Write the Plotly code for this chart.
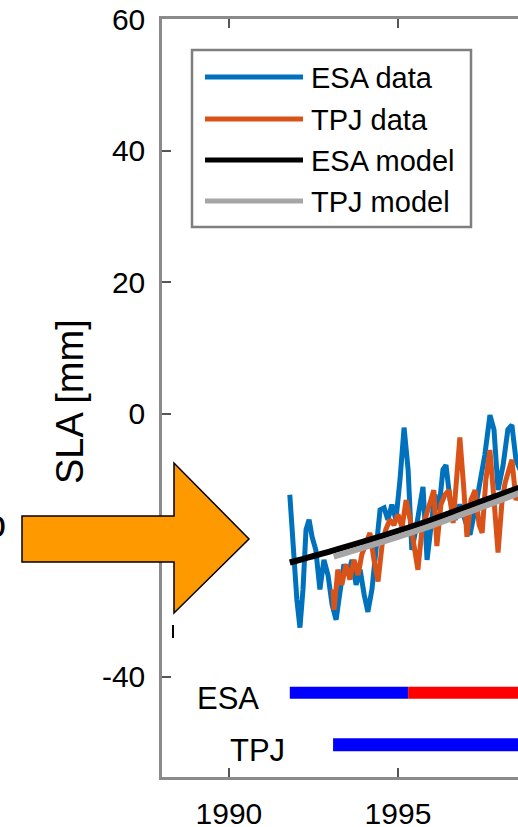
import plotly.graph_objects as go

# ---------------- data ----------------
esa_year = [1991.80, 1991.89, 1992.01, 1992.10, 1992.19, 1992.28, 1992.37, 1992.46, 1992.57,
            1992.69, 1992.81, 1992.93, 1993.05, 1993.17, 1993.28, 1993.40, 1993.52, 1993.64,
            1993.76, 1993.88, 1994.00, 1994.11, 1994.23, 1994.35, 1994.47, 1994.59, 1994.70,
            1994.82, 1994.94, 1995.06, 1995.18, 1995.30, 1995.41, 1995.53, 1995.65, 1995.74,
            1995.86, 1995.98, 1996.09, 1996.21, 1996.33, 1996.42, 1996.54, 1996.69, 1996.83,
            1996.98, 1997.13, 1997.28, 1997.43, 1997.57, 1997.72, 1997.84, 1997.96, 1998.11,
            1998.25, 1998.37, 1998.49, 1998.61]
esa_sla = [-12.3, -19.9, -28.3, -32.5, -26.7, -17.6, -16.1, -18.7, -20.7,
           -26.7, -22.2, -24.5, -29.0, -31.3, -26.7, -22.9, -24.5, -22.2,
           -26.0, -23.7, -27.5, -30.1, -26.7, -19.9, -14.6, -14.3, -16.1,
           -13.8, -16.1, -10.0, -2.1, -8.5, -20.7, -17.6, -13.1, -11.1,
           -22.2, -16.1, -12.3, -14.6, -8.5, -7.8, -13.1, -16.1, -13.8,
           -16.1, -18.4, -14.6, -10.0, -6.2, -0.2, -2.4, -11.6, -7.8,
           -2.4, -1.7, -7.0, -8.5]

tpj_year = [1993.08, 1993.11, 1993.22, 1993.34, 1993.46, 1993.58, 1993.70, 1993.82, 1993.93,
            1994.05, 1994.17, 1994.29, 1994.41, 1994.53, 1994.64, 1994.76, 1994.88, 1995.00,
            1995.12, 1995.24, 1995.36, 1995.47, 1995.59, 1995.71, 1995.83, 1995.95, 1996.06,
            1996.15, 1996.27, 1996.39, 1996.51, 1996.63, 1996.75, 1996.83, 1996.95, 1997.04,
            1997.16, 1997.28, 1997.40, 1997.49, 1997.60, 1997.72, 1997.84, 1997.96, 1998.08,
            1998.17, 1998.28, 1998.37, 1998.49, 1998.61]
tpj_sla = [-26.7, -29.8, -23.7, -26.0, -22.9, -25.2, -22.2, -24.5, -21.4,
           -19.9, -18.1, -22.2, -25.5, -19.9, -17.6, -16.1, -16.9, -15.3,
           -17.3, -13.1, -16.1, -19.9, -23.7, -17.6, -15.3, -13.1, -11.6,
           -20.1, -13.8, -12.3, -11.6, -16.6, -8.5, -3.6, -11.6, -18.7,
           -13.1, -11.6, -16.9, -18.1, -10.0, -5.5, -13.1, -21.1, -13.1,
           -10.5, -8.5, -7.0, -13.1, -11.6]

esa_model_year = [1991.80, 1993.0, 1994.0, 1995.0, 1996.0, 1997.0, 1998.0, 1998.6]
esa_model_sla = [-22.6, -20.9, -19.4, -17.8, -16.1, -14.2, -12.3, -11.2]
tpj_model_year = [1993.10, 1994.0, 1995.0, 1996.0, 1997.0, 1998.0, 1998.6]
tpj_model_sla = [-21.7, -20.3, -18.7, -17.0, -15.1, -13.2, -12.0]

# mission coverage bars
esa_phase1_years = [1991.80, 1995.30]
esa_phase2_years = [1995.30, 1998.70]
esa_bar_level = -42.4
tpj_years = [1993.08, 1998.70]
tpj_bar_level = -50.3

legend_names = ["ESA data", "TPJ data", "ESA model", "TPJ model"]
legend_colors = ["#0072BD", "#D95319", "#000000", "#A6A6A6"]

y_tickvals = [60, 40, 20, 0, -20, -40]
y_ticktext = ["60", "40", "20", "0", "-20", "-40"]
x_tickvals = [1990, 1995, 2000]
x_ticktext = ["1990", "1995", "2000"]

# ---------------- figure ----------------
W, H = 518, 827
L, R, T, B = 162, 0, 19, 50
PW, PH = W - L - R, H - T - B


def px(xp):
    return (xp - L) / PW


def py(yp):
    return (H - B - yp) / PH


FONT = "Liberation Sans, Arial, Helvetica, sans-serif"
fig = go.Figure()

fig.add_trace(go.Scatter(x=esa_year, y=esa_sla, mode="lines",
                         line=dict(color=legend_colors[0], width=5), name=legend_names[0]))
fig.add_trace(go.Scatter(x=tpj_year, y=tpj_sla, mode="lines",
                         line=dict(color=legend_colors[1], width=5), name=legend_names[1]))
fig.add_trace(go.Scatter(x=esa_model_year, y=esa_model_sla, mode="lines",
                         line=dict(color=legend_colors[2], width=6, shape="spline"), name=legend_names[2]))
fig.add_trace(go.Scatter(x=tpj_model_year, y=tpj_model_sla, mode="lines",
                         line=dict(color=legend_colors[3], width=6, shape="spline"), name=legend_names[3]))

fig.add_trace(go.Scatter(x=esa_phase1_years, y=[esa_bar_level] * 2, mode="lines",
                         line=dict(color="#0000FF", width=12)))
fig.add_trace(go.Scatter(x=esa_phase2_years, y=[esa_bar_level] * 2, mode="lines",
                         line=dict(color="#FF0000", width=12)))
fig.add_trace(go.Scatter(x=tpj_years, y=[tpj_bar_level] * 2, mode="lines",
                         line=dict(color="#0000FF", width=13)))

annotations = []
shapes = []

# manual legend box
shapes.append(dict(type="rect", xref="paper", yref="paper",
                   x0=px(192), x1=px(471), y0=py(227), y1=py(50),
                   line=dict(color="#7F7F7F", width=2.5), fillcolor="white", layer="above"))
rows = [77, 119, 160, 201]
for name, col, ry in zip(legend_names, legend_colors, rows):
    shapes.append(dict(type="line", xref="paper", yref="paper",
                       x0=px(205), x1=px(303), y0=py(ry), y1=py(ry),
                       line=dict(color=col, width=5), layer="above"))
    annotations.append(dict(text=name, xref="paper", yref="paper", x=px(309), y=py(ry + 1),
                            xanchor="left", yanchor="middle", showarrow=False,
                            font=dict(family=FONT, size=29, color="black")))

# mission labels
annotations.append(dict(text="ESA", x=1989.97, y=-43.2, xref="x", yref="y", showarrow=False,
                        xanchor="center", yanchor="middle",
                        font=dict(family=FONT, size=31, color="black")))
annotations.append(dict(text="TPJ", x=1990.83, y=-51.2, xref="x", yref="y", showarrow=False,
                        xanchor="center", yanchor="middle",
                        font=dict(family=FONT, size=31, color="black")))

# y-axis title
annotations.append(dict(text="SLA [mm]", xref="paper", yref="paper", x=px(70), y=py(401),
                        textangle=-90, showarrow=False, xanchor="center", yanchor="middle",
                        font=dict(family=FONT, size=38, color="black")))

# partial text at the left edge (cut off in the reference)
annotations.append(dict(text="o", xref="paper", yref="paper", x=px(8), y=py(524),
                        xanchor="right", yanchor="middle", showarrow=False,
                        font=dict(family=FONT, size=38, color="black")))

# orange block arrow
pts = [(22, 516), (174, 516), (174, 463), (249, 539), (174, 613), (174, 562), (22, 562)]
path = "M " + " L ".join(f"{px(a):.5f},{py(b):.5f}" for a, b in pts) + " Z"
shapes.append(dict(type="path", xref="paper", yref="paper", path=path,
                   fillcolor="#FF9900", line=dict(color="black", width=1.5), layer="above"))
# small mark below arrow
shapes.append(dict(type="line", xref="paper", yref="paper", x0=px(173), x1=px(173),
                   y0=py(625), y1=py(638), line=dict(color="black", width=2), layer="above"))

axis_common = dict(showgrid=False, zeroline=False, showline=True, linecolor="#8A8A8A",
                   linewidth=2.5, ticks="inside", ticklen=9, tickwidth=1.5,
                   tickcolor="#555555", automargin=False,
                   tickfont=dict(family=FONT, size=30, color="black"))

fig.update_layout(
    width=W, height=H,
    margin=dict(l=L, r=R, t=T, b=B, pad=0),
    paper_bgcolor="white", plot_bgcolor="white",
    showlegend=False,
    shapes=shapes, annotations=annotations,
    xaxis=dict(range=[1988.02, 1998.55], tickvals=x_tickvals, ticktext=x_ticktext,
               mirror="ticks", ticklabelstandoff=8, **axis_common),
    yaxis=dict(range=[-55.2, 60], tickvals=y_tickvals, ticktext=y_ticktext,
               mirror=False, ticklabelstandoff=8, **axis_common),
)

fig.write_html(
    "out.html",
    config={"displayModeBar": False},
    post_script="document.body.style.margin='0px';document.body.style.padding='0px';"
                "document.body.style.overflow='hidden';",
)
